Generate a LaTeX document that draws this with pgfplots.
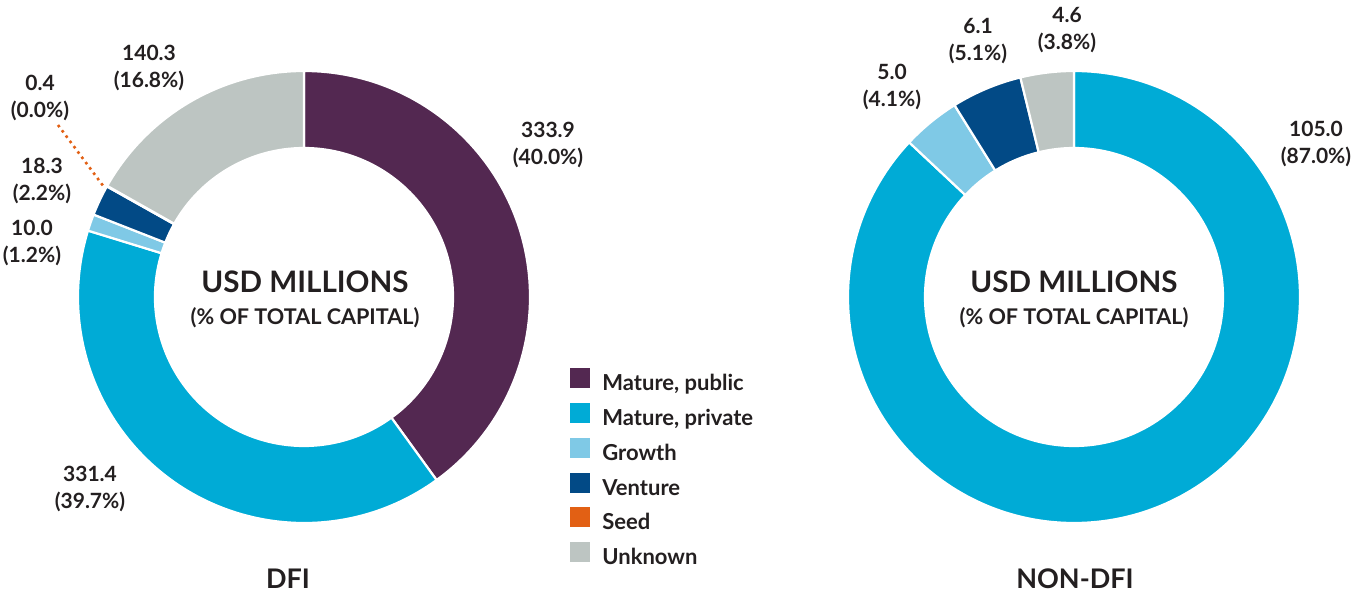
\documentclass[border=0pt]{standalone}
\usepackage{pgfplots}
\pgfplotsset{compat=1.18}
\usepackage{pgfplotstable}
\usepackage{fontspec}
\setmainfont{Lato}
\definecolor{cpub}{HTML}{532851}
\definecolor{cpriv}{HTML}{00ABD6}
\definecolor{cgrow}{HTML}{7FC9E6}
\definecolor{cvent}{HTML}{024A86}
\definecolor{cseed}{HTML}{E26014}
\definecolor{cunk}{HTML}{BDC5C2}
\definecolor{txt}{HTML}{231F20}

\tikzset{lbl/.style={text=txt, font=\bfseries\fontsize{10.5}{13.8}\selectfont, align=center, inner sep=0pt}}

\pgfplotstableread{
value color
333.9 cpub
331.4 cpriv
10.0 cgrow
18.3 cvent
0.4 cseed
140.3 cunk
}\dfitable

\pgfplotstableread{
value color
105.0 cpriv
5.0 cgrow
6.1 cvent
4.6 cunk
}\nondfitable

% #1 table, #2 cx, #3 cy, #4 outer radius, #5 inner radius (axis units)
\newcommand\donut[5]{%
  \pgfplotstablegetrowsof{#1}\pgfmathtruncatemacro\nrows{\pgfplotsretval-1}%
  \def\tot{0}%
  \pgfplotsforeachungrouped \i in {0,...,\nrows}{%
    \pgfplotstablegetelem{\i}{value}\of{#1}%
    \pgfmathsetmacro\tot{\tot+\pgfplotsretval}%
  }%
  \def\cum{0}%
  \pgfplotsforeachungrouped \i in {0,...,\nrows}{%
    \pgfplotstablegetelem{\i}{value}\of{#1}\let\v\pgfplotsretval
    \pgfplotstablegetelem{\i}{color}\of{#1}\let\c\pgfplotsretval
    \pgfmathsetmacro\aS{90-360*(\cum/\tot)}%
    \pgfmathsetmacro\cum{\cum+\v}%
    \pgfmathsetmacro\aE{90-360*(\cum/\tot)}%
    \edef\cmd{\noexpand\fill[fill=\c, draw=white, line width=1.1pt, line join=miter]
      (axis cs:{#2+#4*cos(\aS)},{#3+#4*sin(\aS)}) arc[start angle=\aS, end angle=\aE, radius=#4]
      -- (axis cs:{#2+#5*cos(\aE)},{#3+#5*sin(\aE)}) arc[start angle=\aE, end angle=\aS, radius=#5]
      -- cycle;}%
    \cmd
  }%
}

\begin{document}
\begin{tikzpicture}
\useasboundingbox (0,0) rectangle (678pt,298pt);
\begin{axis}[
  at={(0,0)}, anchor=south west,
  width=678pt, height=298pt, scale only axis,
  xmin=0, xmax=1356, ymin=0, ymax=596,
  hide axis, clip=false,
  legend style={at={(axis cs:570,228)}, anchor=north west, draw=none, fill=none,
    inner sep=0pt, row sep=3.6pt, column sep=0pt,
    font=\bfseries\fontsize{11}{13}\selectfont, text=txt,
    nodes={inner sep=0pt, text height=8pt, text depth=2.5pt}},
  legend cell align=left,
  legend image code/.code={\fill[#1] (0pt,-1.5pt) rectangle (10pt,8.5pt); \path (16pt,0pt);},
]
\donut{\dfitable}{304}{299}{226}{149}
\donut{\nondfitable}{1074}{299}{226}{149}

\addplot[cseed, line width=1.3pt, dotted, forget plot] coordinates {(58,471) (104,409)};

\addlegendimage{fill=cpub, draw=none}\addlegendentry{Mature, public}
\addlegendimage{fill=cpriv, draw=none}\addlegendentry{Mature, private}
\addlegendimage{fill=cgrow, draw=none}\addlegendentry{Growth}
\addlegendimage{fill=cvent, draw=none}\addlegendentry{Venture}
\addlegendimage{fill=cseed, draw=none}\addlegendentry{Seed}
\addlegendimage{fill=cunk, draw=none}\addlegendentry{Unknown}

% slice labels
\node[lbl] at (axis cs:548,451) {333.9\\(40.0\%)};
\node[lbl] at (axis cs:90,107) {331.4\\(39.7\%)};
\node[lbl] at (axis cs:32,353) {10.0\\(1.2\%)};
\node[lbl] at (axis cs:42,415) {18.3\\(2.2\%)};
\node[lbl] at (axis cs:40,498) {0.4\\(0.0\%)};
\node[lbl] at (axis cs:149,528) {140.3\\(16.8\%)};
\node[lbl] at (axis cs:1316,452) {105.0\\(87.0\%)};
\node[lbl] at (axis cs:892,509) {5.0\\(4.1\%)};
\node[lbl] at (axis cs:978,555) {6.1\\(5.1\%)};
\node[lbl] at (axis cs:1067,566) {4.6\\(3.8\%)};

% centre texts
\node[lbl, font=\bfseries\fontsize{14.8}{16}\selectfont] at (axis cs:305,314) {USD MILLIONS};
\node[lbl, font=\bfseries\fontsize{10.8}{12}\selectfont] at (axis cs:305,278) {(\% OF TOTAL CAPITAL)};
\node[lbl, font=\bfseries\fontsize{14.8}{16}\selectfont] at (axis cs:1074,314) {USD MILLIONS};
\node[lbl, font=\bfseries\fontsize{10.8}{12}\selectfont] at (axis cs:1074,278) {(\% OF TOTAL CAPITAL)};

% titles
\node[lbl, font=\bfseries\fontsize{13.5}{16}\selectfont] at (axis cs:288,17) {DFI};
\node[lbl, font=\bfseries\fontsize{13.5}{16}\selectfont] at (axis cs:1075,17) {NON-DFI};
\end{axis}
\end{tikzpicture}
\end{document}
